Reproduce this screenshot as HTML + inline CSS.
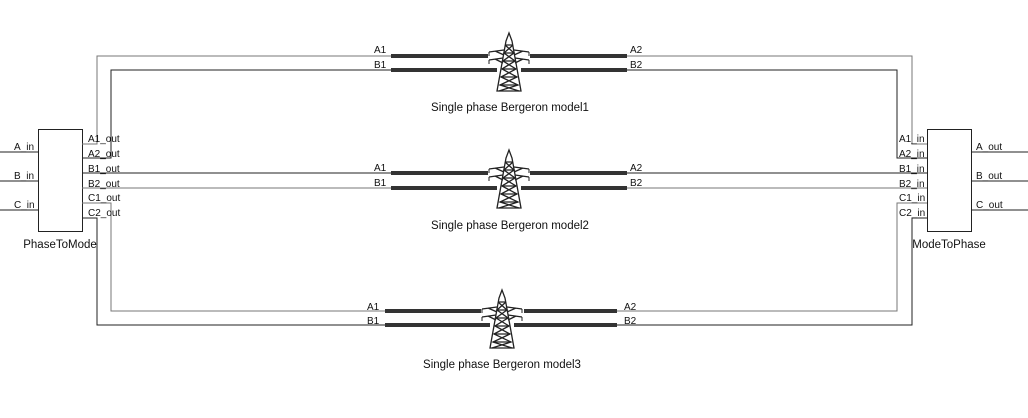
<!DOCTYPE html>
<html><head><meta charset="utf-8"><style>
body{margin:0;background:#fff;}
svg{display:block;font-family:"Liberation Sans",sans-serif;}
</style></head><body>
<svg width="1028" height="418" viewBox="0 0 1028 418" xmlns="http://www.w3.org/2000/svg">
<defs>
<g id="tw" fill="none" stroke="#222" stroke-width="1.3">
<path d="M0,0 L-3,8 L-12,58 L12,58 L3,8 Z"/>
<path d="M-4,12 L5,20 L-6,28 L7,36 L-8,44 L9,52 L-10,58 M4,12 L-5,20 L6,28 L-7,36 L8,44 L-9,52 L10,58"/>
<path d="M-4,12 L4,12 M-5,20 L5,20 M-6,28 L6,28 M-7,36 L7,36 M-8,44 L8,44 M-9,52 L9,52"/>
<path d="M-5,17 L-20,19 M5,17 L20,19 M-6,25 L-20,27 M6,25 L20,27 M-14,18 L-5,22 M14,18 L5,22 M-14,26 L-6,30 M14,26 L6,30"/>
<path d="M-20,19 L-20,23 M20,19 L20,23 M-20,27 L-20,31 M20,27 L20,31" stroke-width="1"/>
</g>
</defs>
<g stroke-width="1" fill="none">
<!-- inputs -->
<path d="M0,152H38M0,181H38M0,210H38" stroke="#222"/>
<path d="M971,152H1028M971,181H1028M971,210H1028" stroke="#222"/>
<!-- blocks -->
<rect x="38.5" y="129.5" width="44" height="102" stroke="#222"/>
<rect x="927.5" y="129.5" width="44" height="102" stroke="#222"/>
<!-- wiring -->
<path d="M82,144H97V56H391" stroke="#777"/>
<path d="M82,158H111V70H391" stroke="#222"/>
<path d="M82,173H391" stroke="#222"/>
<path d="M82,188H391" stroke="#777"/>
<path d="M82,203H111V311H385" stroke="#777"/>
<path d="M82,218H97V325H385" stroke="#222"/>
<path d="M627,56H912V144H927" stroke="#777"/>
<path d="M627,70H897V158H927" stroke="#222"/>
<path d="M627,173H927" stroke="#222"/>
<path d="M627,188H927" stroke="#777"/>
<path d="M617,311H897V203H927" stroke="#777"/>
<path d="M617,325H912V218H927" stroke="#222"/>
<!-- thick lines -->
<g stroke="#333" stroke-width="4">
<path d="M391,56H488M530,56H627M391,70H497M521,70H627"/>
<path d="M391,173H488M530,173H627M391,188H497M521,188H627"/>
<path d="M385,311H481M524,311H617M385,325H490M514,325H617"/>
</g>
</g>
<use href="#tw" x="509" y="33"/>
<use href="#tw" x="509" y="150"/>
<use href="#tw" x="502" y="290"/>
<g font-size="10" fill="#111">
<text x="374" y="53">A1</text><text x="374" y="68">B1</text>
<text x="630" y="53">A2</text><text x="630" y="68">B2</text>
<text x="374" y="171">A1</text><text x="374" y="186">B1</text>
<text x="630" y="171">A2</text><text x="630" y="186">B2</text>
<text x="367" y="310">A1</text><text x="367" y="324">B1</text>
<text x="624" y="310">A2</text><text x="624" y="324">B2</text>
<text x="14" y="150">A_in</text><text x="14" y="179">B_in</text><text x="14" y="208">C_in</text>
<text x="88" y="142">A1_out</text><text x="88" y="157">A2_out</text><text x="88" y="172">B1_out</text>
<text x="88" y="187">B2_out</text><text x="88" y="201">C1_out</text><text x="88" y="216">C2_out</text>
<text x="899" y="142">A1_in</text><text x="899" y="157">A2_in</text><text x="899" y="172">B1_in</text>
<text x="899" y="187">B2_in</text><text x="899" y="201">C1_in</text><text x="899" y="216">C2_in</text>
<text x="976" y="150">A_out</text><text x="976" y="179">B_out</text><text x="976" y="208">C_out</text>
</g>
<g font-size="11.5" fill="#111" text-anchor="middle">
<text x="510" y="111">Single phase Bergeron model1</text>
<text x="510" y="229">Single phase Bergeron model2</text>
<text x="502" y="368">Single phase Bergeron model3</text>
<text x="60" y="248">PhaseToMode</text>
<text x="949" y="248">ModeToPhase</text>
</g>
</svg>
</body></html>
